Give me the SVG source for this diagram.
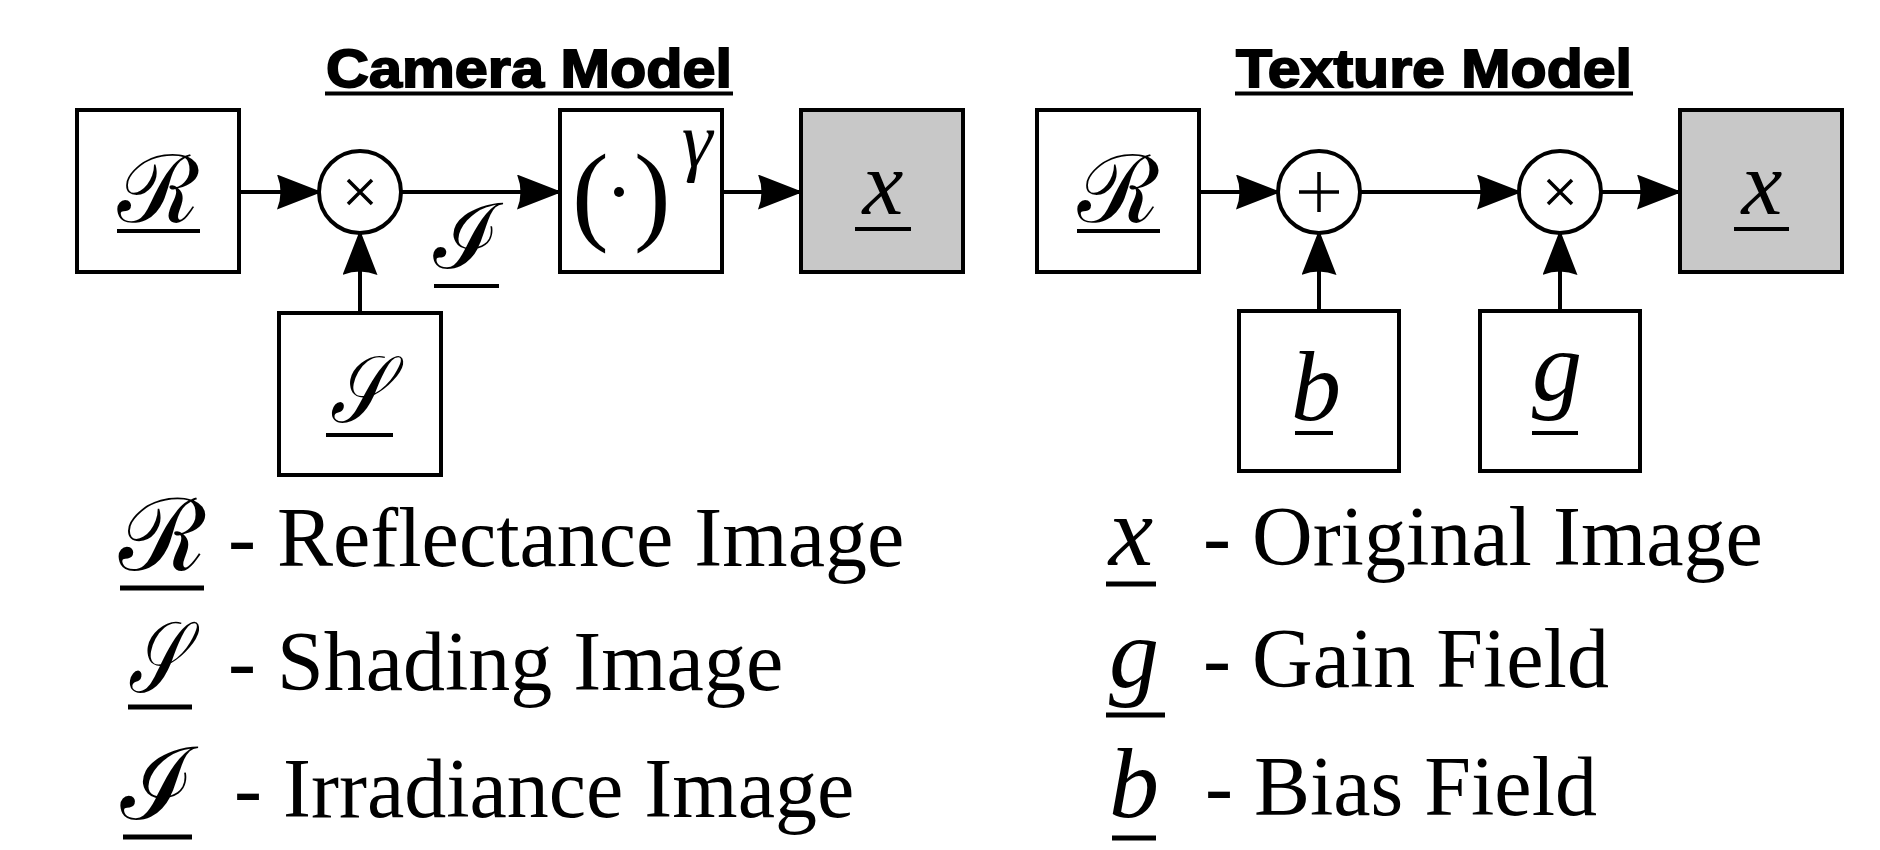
<svg xmlns="http://www.w3.org/2000/svg" width="1880" height="850" viewBox="0 0 1880 850">
  <style>
    .box { fill: #ffffff; stroke: #000000; stroke-width: 4; }
    .out { fill: #c8c8c8; stroke: #000000; stroke-width: 4; }
    .op { fill: #ffffff; stroke: #000000; stroke-width: 4; }
    .sym { stroke: #000000; stroke-width: 3.5; fill: none; }
    .wire { stroke: #000000; stroke-width: 4; fill: none; marker-end: url(#head); }
    .bar { stroke: #000000; stroke-width: 4; }
    .lbar { stroke: #000000; stroke-width: 5; }
    .title { font-family: "Liberation Sans", Arial, sans-serif; font-weight: bold; font-size: 54px; text-anchor: middle; fill: #000000; stroke: #000000; stroke-width: 1.8; }
    .cal { font-family: "DejaVu Serif", "Noto Sans", serif; font-style: italic; text-anchor: middle; fill: #000000; }
    .mi { font-family: "Liberation Serif", "Times New Roman", serif; font-style: italic; text-anchor: middle; fill: #000000; }
    .rm { font-family: "Liberation Serif", "Times New Roman", serif; fill: #000000; }
    .leg { font-family: "Liberation Serif", "Times New Roman", serif; font-size: 84px; fill: #000000; }
  </style>
  <defs>
    <marker id="head" viewBox="0 0 45 35" refX="43" refY="17.5" markerWidth="45" markerHeight="35" markerUnits="userSpaceOnUse" orient="auto">
      <path d="M0,0 L45,17.5 L0,35 Q7,17.5 0,0 z" fill="#000000"/>
    </marker>
  </defs>

  <!-- titles -->
  <g id="title-camera">
    <text class="title" x="529" y="87" textLength="406" lengthAdjust="spacingAndGlyphs">Camera Model</text>
    <line x1="325" y1="93.5" x2="733" y2="93.5" stroke="#000" stroke-width="4"/>
  </g>
  <g id="title-texture">
    <text class="title" x="1434" y="87" textLength="396" lengthAdjust="spacingAndGlyphs">Texture Model</text>
    <line x1="1235" y1="93.5" x2="1633" y2="93.5" stroke="#000" stroke-width="4"/>
  </g>

  <!-- connectors -->
  <g id="connectors">
    <line class="wire" x1="239" y1="192" x2="320" y2="192"/>
    <line class="wire" x1="401" y1="192" x2="560" y2="192"/>
    <line class="wire" x1="722" y1="192" x2="801" y2="192"/>
    <line class="wire" x1="360" y1="313" x2="360" y2="232"/>
    <line class="wire" x1="1199" y1="192" x2="1279" y2="192"/>
    <line class="wire" x1="1360" y1="192" x2="1520" y2="192"/>
    <line class="wire" x1="1601" y1="192" x2="1680" y2="192"/>
    <line class="wire" x1="1319" y1="311" x2="1319" y2="232"/>
    <line class="wire" x1="1560" y1="311" x2="1560" y2="232"/>
  </g>

  <!-- camera model -->
  <g id="cam-R">
    <rect class="box" x="77" y="110" width="162" height="162"/>
    <text class="cal" x="158" y="222" font-size="94">ℛ</text>
    <line class="bar" x1="117" y1="231" x2="200" y2="231"/>
  </g>
  <g id="cam-mul">
    <circle class="op" cx="360" cy="192" r="41"/>
    <path class="sym" d="M348,180 L372,204 M372,180 L348,204"/>
  </g>
  <g id="cam-S">
    <rect class="box" x="279" y="313" width="162" height="162"/>
    <text class="cal" x="358" y="422" font-size="94" textLength="56" lengthAdjust="spacingAndGlyphs">𝒮</text>
    <line class="bar" x1="326" y1="435" x2="393" y2="435"/>
  </g>
  <g id="cam-I">
    <text class="cal" x="467" y="268" font-size="90">ℐ</text>
    <line class="bar" x1="434" y1="286" x2="499" y2="286"/>
  </g>
  <g id="cam-gamma">
    <rect class="box" x="560" y="110" width="162" height="162"/>
    <text class="rm" x="572" y="230" font-size="110">(</text>
    <circle cx="619" cy="192" r="5" fill="#000"/>
    <text class="rm" x="634" y="230" font-size="110">)</text>
    <text class="mi" x="697" y="166" font-size="78">γ</text>
  </g>
  <g id="cam-x">
    <rect class="out" x="801" y="110" width="162" height="162"/>
    <text class="mi" x="883" y="214" font-size="92">x</text>
    <line class="bar" x1="855" y1="229" x2="911" y2="229"/>
  </g>

  <!-- texture model -->
  <g id="tex-R">
    <rect class="box" x="1037" y="110" width="162" height="162"/>
    <text class="cal" x="1118" y="222" font-size="94">ℛ</text>
    <line class="bar" x1="1077" y1="231" x2="1160" y2="231"/>
  </g>
  <g id="tex-add">
    <circle class="op" cx="1319" cy="192" r="41"/>
    <path class="sym" d="M1319,172 L1319,212 M1299,192 L1339,192"/>
  </g>
  <g id="tex-b">
    <rect class="box" x="1239" y="311" width="160" height="160"/>
    <text class="mi" x="1316" y="420" font-size="100">b</text>
    <line class="bar" x1="1295" y1="433" x2="1333" y2="433"/>
  </g>
  <g id="tex-mul">
    <circle class="op" cx="1560" cy="192" r="41"/>
    <path class="sym" d="M1548,180 L1572,204 M1572,180 L1548,204"/>
  </g>
  <g id="tex-g">
    <rect class="box" x="1480" y="311" width="160" height="160"/>
    <text class="mi" x="1557" y="400" font-size="100">g</text>
    <line class="bar" x1="1532" y1="433" x2="1578" y2="433"/>
  </g>
  <g id="tex-x">
    <rect class="out" x="1680" y="110" width="162" height="162"/>
    <text class="mi" x="1762" y="214" font-size="92">x</text>
    <line class="bar" x1="1734" y1="229" x2="1789" y2="229"/>
  </g>

  <!-- legend, camera model -->
  <g id="legend-camera">
    <text class="cal" x="162" y="570" font-size="100">ℛ</text>
    <line class="lbar" x1="120" y1="588" x2="204" y2="588"/>
    <text class="leg" x="228" y="566">- Reflectance Image</text>
    <text class="cal" x="155" y="692" font-size="100" textLength="54" lengthAdjust="spacingAndGlyphs">𝒮</text>
    <line class="lbar" x1="128" y1="707" x2="192" y2="707"/>
    <text class="leg" x="228" y="690">- Shading Image</text>
    <text class="cal" x="158" y="819" font-size="100">ℐ</text>
    <line class="lbar" x1="123" y1="837" x2="192" y2="837"/>
    <text class="leg" x="234" y="817">- Irradiance Image</text>
  </g>

  <!-- legend, texture model -->
  <g id="legend-texture">
    <text class="mi" x="1131" y="565" font-size="100">x</text>
    <line class="lbar" x1="1106" y1="584" x2="1156" y2="584"/>
    <text class="leg" x="1203" y="565">- Original Image</text>
    <text class="mi" x="1134" y="687" font-size="100">g</text>
    <line class="lbar" x1="1106" y1="715" x2="1165" y2="715"/>
    <text class="leg" x="1203" y="687">- Gain Field</text>
    <text class="mi" x="1134" y="817" font-size="100">b</text>
    <line class="lbar" x1="1112" y1="838" x2="1156" y2="838"/>
    <text class="leg" x="1205" y="815">- Bias Field</text>
  </g>
</svg>
